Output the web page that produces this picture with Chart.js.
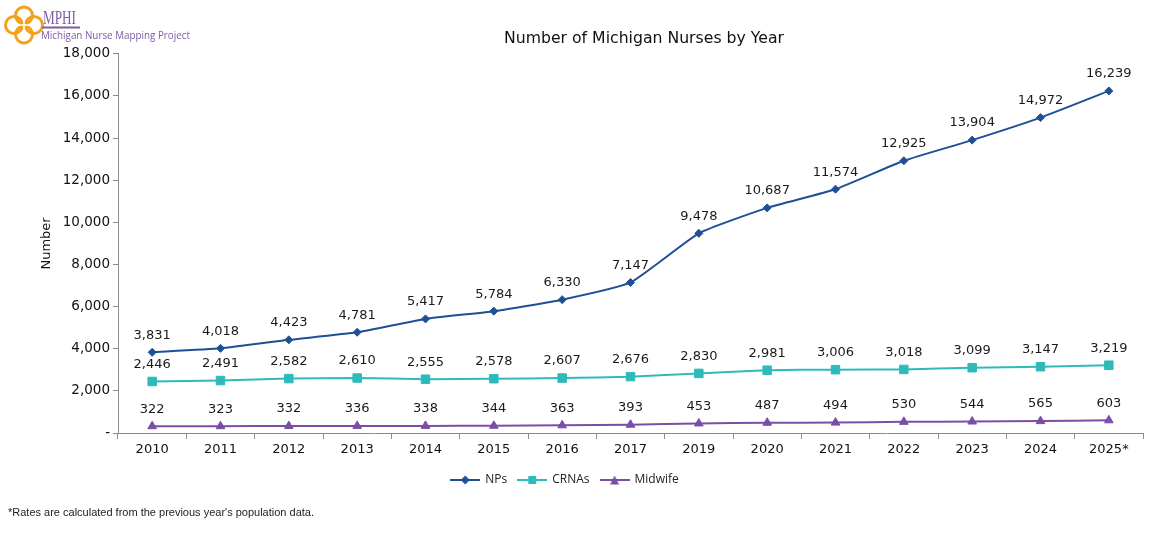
<!DOCTYPE html>
<html>
<head>
<meta charset="utf-8">
<script src="https://cdn.jsdelivr.net/npm/chart.js@4.4.1/dist/chart.umd.min.js"></script>
<style>
  html, body { margin: 0; padding: 0; background: #fff; }
  #wrap { position: relative; width: 1164px; height: 535px; overflow: hidden; }
  #chart { position: absolute; left: 0; top: 0; }
  #logo { position: absolute; left: 0; top: 0; }
  #note { position: absolute; left: 8px; top: 506px; font: 11px "Liberation Sans", Arial, sans-serif; color: #222; }
</style>
</head>
<body>
<div id="wrap">
  <canvas id="chart" width="1164" height="535"></canvas>
  <svg id="logo" width="230" height="48">
    <g fill="none" stroke="#f4a21c" stroke-width="3">
      <circle cx="14" cy="25" r="8.5"/>
      <circle cx="34" cy="25" r="8.5"/>
      <circle cx="24" cy="15.5" r="8.5"/>
      <circle cx="24" cy="34.5" r="8.5"/>
    </g>
    <g stroke="#fff" stroke-width="1.5">
      <line x1="19" y1="25" x2="29" y2="25"/>
      <line x1="24" y1="20" x2="24" y2="30"/>
    </g>
    <text x="43" y="24" font-family="Liberation Serif, serif" font-size="18" fill="#7d5ba6" textLength="33" lengthAdjust="spacingAndGlyphs">MPHI</text>
    <line x1="42" y1="27.5" x2="80" y2="27.5" stroke="#7d5ba6" stroke-width="2"/>
    <text x="41" y="39" font-family="Open Sans, sans-serif" font-size="10.4" fill="#7d5ba6" textLength="149" lengthAdjust="spacingAndGlyphs">Michigan Nurse Mapping Project</text>
  </svg>
  <div id="note">*Rates are calculated from the previous year's population data.</div>
</div>
<script>
const years = ['2010', '2011', '2012', '2013', '2014', '2015', '2016', '2017', '2019', '2020', '2021', '2022', '2023', '2024', '2025*'];
const nps = [3831, 4018, 4423, 4781, 5417, 5784, 6330, 7147, 9478, 10687, 11574, 12925, 13904, 14972, 16239];
const crnas = [2446, 2491, 2582, 2610, 2555, 2578, 2607, 2676, 2830, 2981, 3006, 3018, 3099, 3147, 3219];
const midwife = [322, 323, 332, 336, 338, 344, 363, 393, 453, 487, 494, 530, 544, 565, 603];
const yTicks = [0, 2000, 4000, 6000, 8000, 10000, 12000, 14000, 16000, 18000];

const BLUE = '#1f4f97';
const TEAL = '#2fbaba';
const PURPLE = '#7a4ea6';
const FONT = '"DejaVu Sans", Verdana, sans-serif';

// little line + marker pictures for the legend
function legendIcon(color, shape) {
  const c = document.createElement('canvas');
  c.width = 30; c.height = 12;
  const g = c.getContext('2d');
  g.strokeStyle = color;
  g.fillStyle = color;
  g.lineWidth = 2;
  g.beginPath(); g.moveTo(0, 6); g.lineTo(30, 6); g.stroke();
  g.beginPath();
  if (shape === 'diamond') {
    g.moveTo(15, 1.5); g.lineTo(19.5, 6); g.lineTo(15, 10.5); g.lineTo(10.5, 6);
  } else if (shape === 'square') {
    g.rect(11, 2, 8, 8);
  } else {
    g.moveTo(15, 1.5); g.lineTo(19.5, 10.5); g.lineTo(10.5, 10.5);
  }
  g.closePath();
  g.fill();
  return c;
}

const icons = [legendIcon(BLUE, 'diamond'), legendIcon(TEAL, 'square'), legendIcon(PURPLE, 'triangle')];

const valueLabels = {
  id: 'valueLabels',
  afterDatasetsDraw(chart) {
    const ctx = chart.ctx;
    ctx.save();
    ctx.font = '13px ' + FONT;
    ctx.fillStyle = '#1a1a1a';
    ctx.textAlign = 'center';
    ctx.textBaseline = 'middle';
    chart.data.datasets.forEach((ds, i) => {
      chart.getDatasetMeta(i).data.forEach((pt, j) => {
        ctx.fillText(ds.data[j].toLocaleString('en-US'), pt.x, pt.y - 17);
      });
    });
    ctx.restore();
  }
};

// Excel put the title and legend a bit off centre
const nudge = {
  id: 'nudge',
  afterLayout(chart) {
    const move = (box, centre) => {
      if (!box) return;
      const d = centre - (box.left + box.right) / 2;
      box.left += d;
      box.right += d;
    };
    move(chart.titleBlock, 644);
    move(chart.legend, 565);
  }
};

const line = (label, data, color, style, radius) => ({
  label,
  data,
  borderColor: color,
  backgroundColor: color,
  borderWidth: 2,
  pointStyle: style,
  pointRadius: radius,
  pointBorderWidth: 1,
  pointHoverRadius: radius,
  tension: 0.15
});

new Chart(document.getElementById('chart'), {
  type: 'line',
  data: {
    labels: years,
    datasets: [
      line('NPs', nps, BLUE, 'rectRot', 4),
      line('CRNAs', crnas, TEAL, 'rect', 6),
      line('Midwife', midwife, PURPLE, 'triangle', 5)
    ]
  },
  options: {
    responsive: false,
    animation: false,
    layout: { padding: { left: 0, right: 21, top: 0, bottom: 39 } },
    plugins: {
      title: {
        display: true,
        text: 'Number of Michigan Nurses by Year',
        color: '#111',
        font: { family: FONT, size: 15.7, weight: 'normal' },
        padding: { top: 30, bottom: 5 }
      },
      legend: {
        position: 'bottom',
        labels: {
          usePointStyle: true,
          pointStyleWidth: 28,
          color: '#222',
          padding: 11,
          font: { family: '"Open Sans", sans-serif', size: 12 },
          generateLabels() {
            return ['NPs', 'CRNAs', 'Midwife'].map((text, i) => ({
              text,
              pointStyle: icons[i],
              datasetIndex: i,
              hidden: false,
              lineWidth: 0,
              fillStyle: 'transparent',
              strokeStyle: 'transparent',
              fontColor: '#222'
            }));
          }
        }
      },
      tooltip: { enabled: false }
    },
    scales: {
      x: {
        offset: true,
        grid: { offset: true, drawOnChartArea: false, drawTicks: true, tickLength: 6, color: '#8c8c8c' },
        border: { color: '#8c8c8c' },
        ticks: { color: '#111', font: { family: FONT, size: 13 }, padding: 3, maxRotation: 0, autoSkip: false },
        afterFit(scale) { scale.height = 30; }
      },
      y: {
        min: 0,
        max: 18000,
        afterBuildTicks(scale) { scale.ticks = yTicks.map(v => ({ value: v })); },
        grid: { drawOnChartArea: false, drawTicks: true, tickLength: 5, color: '#8c8c8c' },
        border: { color: '#8c8c8c' },
        ticks: {
          color: '#111',
          font: { family: FONT, size: 13.5 },
          padding: 3,
          callback(value) { return value === 0 ? '-' : value.toLocaleString('en-US'); }
        },
        title: {
          display: true,
          text: 'Number',
          color: '#111',
          font: { family: FONT, size: 13 },
          padding: { top: 39, bottom: 0 }
        },
        afterFit(scale) { scale.width = 118; }
      }
    }
  },
  plugins: [valueLabels, nudge]
});
</script>
</body>
</html>
